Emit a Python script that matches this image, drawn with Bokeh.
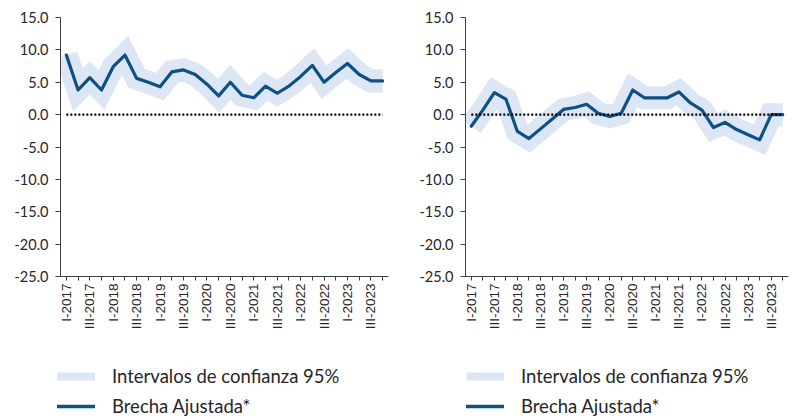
import math
from bokeh.plotting import figure
from bokeh.models import (Range1d, FixedTicker, NumeralTickFormatter,
                          Legend, LegendItem, ColumnDataSource)
from bokeh.layouts import row, column
from bokeh.embed import file_html
from bokeh.resources import INLINE

# ---------------- data ----------------
quarters = [
    "I-2017", "II-2017", "III-2017", "IV-2017",
    "I-2018", "II-2018", "III-2018", "IV-2018",
    "I-2019", "II-2019", "III-2019", "IV-2019",
    "I-2020", "II-2020", "III-2020", "IV-2020",
    "I-2021", "II-2021", "III-2021", "IV-2021",
    "I-2022", "II-2022", "III-2022", "IV-2022",
    "I-2023", "II-2023", "III-2023", "IV-2023",
]
shown_quarter_prefixes = ["I", "III"]

brecha_izq = [9.2, 3.8, 5.7, 3.8, 7.4, 9.2, 5.6, 5.0, 4.3, 6.6, 6.9, 6.2, 4.7, 2.9,
              5.0, 3.0, 2.6, 4.4, 3.3, 4.4, 5.9, 7.6, 5.0, 6.5, 7.9, 6.2, 5.2, 5.2]
brecha_der = [-1.8, 0.7, 3.4, 2.4, -2.6, -3.7, -2.2, -0.7, 0.8, 1.1, 1.6, 0.2, -0.3, 0.2,
              3.8, 2.6, 2.6, 2.6, 3.5, 1.8, 0.7, -2.0, -1.2, -2.3, -3.1, -3.9, 0.0, 0.0]
cero = [0.0] * len(quarters)

y_ticks = [-25, -20, -15, -10, -5, 0, 5, 10, 15]
y_min, y_max = -25, 15

label_band = "Intervalos de confianza 95%"
label_line = "Brecha Ajustada*"

BAND = "#dce6f5"
DARK = "#0c5085"
AXIS = "#404040"
TXT = "#262626"

x_pos = list(range(len(quarters)))


def make_chart(gap, width, height, bl, br, bt, bb):
    p = figure(x_range=Range1d(-0.5, len(quarters) - 0.5),
               y_range=Range1d(y_min, y_max),
               width=width, height=height, output_backend="svg",
               toolbar_location=None,
               min_border_left=bl, min_border_right=br,
               min_border_top=bt, min_border_bottom=bb)
    p.outline_line_color = None
    p.xgrid.visible = False
    p.ygrid.visible = False

    src = ColumnDataSource(dict(x=x_pos, gap=gap, zero=cero))
    p.line("x", "gap", source=src, line_width=23, line_color=BAND,
           line_join="miter", line_cap="butt")
    p.line("x", "gap", source=src, line_width=3.2, line_color=DARK,
           line_join="round", line_cap="round")
    p.line("x", "zero", source=src, line_width=2.4, line_color="black",
           line_dash="2 2")

    ya = p.yaxis[0]
    ya.ticker = FixedTicker(ticks=y_ticks)
    ya.formatter = NumeralTickFormatter(format="0.0")
    ya.axis_line_color = AXIS
    ya.major_tick_line_color = AXIS
    ya.major_tick_out = 5
    ya.major_tick_in = 0
    ya.minor_tick_line_color = None
    ya.major_label_standoff = 7
    ya.major_label_text_font = "Lato"
    ya.major_label_text_font_size = "14.5px"
    ya.major_label_text_color = TXT

    xa = p.xaxis[0]
    xa.ticker = FixedTicker(ticks=x_pos, minor_ticks=[])
    xa.axis_line_color = AXIS
    xa.major_tick_line_color = AXIS
    xa.major_tick_out = 4
    xa.major_tick_in = 0
    xa.minor_tick_line_color = None
    xa.major_label_orientation = math.pi / 2
    xa.major_label_standoff = 3
    xa.major_label_text_font = "Liberation Sans"
    xa.major_label_text_font_size = "13.5px"
    xa.major_label_text_color = TXT
    xa.major_label_overrides = {
        i: (q if q.split("-")[0] in shown_quarter_prefixes else "")
        for i, q in zip(x_pos, quarters)
    }
    return p


def make_legend(gap, width, height, loc):
    p = figure(x_range=Range1d(-0.5, len(quarters) - 0.5),
               y_range=Range1d(y_min, y_max),
               width=width, height=height, output_backend="svg",
               toolbar_location=None, x_axis_type=None, y_axis_type=None,
               min_border=0)
    p.outline_line_color = None
    p.xgrid.visible = False
    p.ygrid.visible = False
    src = ColumnDataSource(dict(x=x_pos, gap=gap))
    band_proxy = p.line("x", "gap", source=src, line_width=8, line_color=BAND,
                        visible=False)
    line_proxy = p.line("x", "gap", source=src, line_width=3.6, line_color=DARK,
                        line_cap="round", visible=False)
    legend = Legend(items=[LegendItem(label=label_band, renderers=[band_proxy]),
                           LegendItem(label=label_line, renderers=[line_proxy])],
                    location=loc, orientation="vertical",
                    glyph_width=38, glyph_height=14, spacing=8,
                    label_standoff=17, padding=0, margin=0,
                    border_line_color=None, background_fill_alpha=0,
                    label_text_font="Lato", label_text_font_size="18.5px",
                    label_text_color=TXT)
    p.add_layout(legend)
    return p


top_h = 350
leg_h = 68
left = make_chart(brecha_izq, 399, top_h, 60, 11, 17, top_h - 284)
right = make_chart(brecha_der, 399, top_h, 66, 10, 12, top_h - 276)
leg_left = make_legend(brecha_izq, 399, leg_h, (57, 1))
leg_right = make_legend(brecha_der, 399, leg_h, (67, 1))

layout = column(row(left, right), row(leg_left, leg_right))
open("out.html", "w").write(file_html(layout, INLINE))
